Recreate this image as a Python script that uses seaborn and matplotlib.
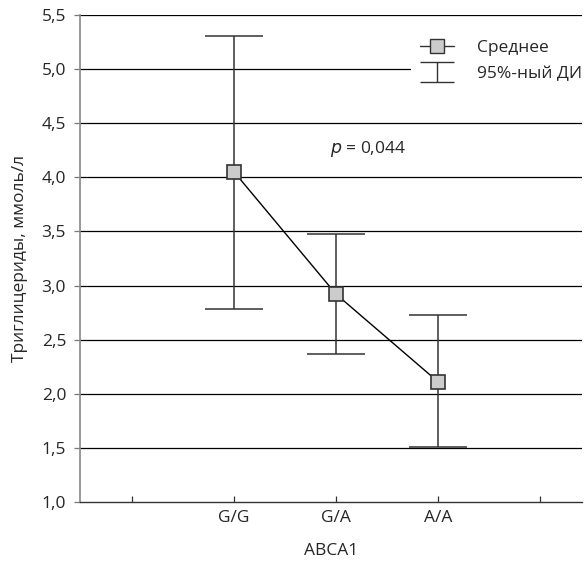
import numpy as np
import matplotlib
matplotlib.use("Agg")
import matplotlib.pyplot as plt
import seaborn as sns
from matplotlib.lines import Line2D
from matplotlib.path import Path

# data
genotypes = ["G/G", "G/A", "A/A"]
mean_tg = [4.05, 2.92, 2.11]
ci_low = [2.78, 2.37, 1.51]
ci_high = [5.31, 3.48, 2.73]
tick_labels = ["", "G/G", "G/A", "A/A", ""]
y_ticks = [1.0, 1.5, 2.0, 2.5, 3.0, 3.5, 4.0, 4.5, 5.0, 5.5]

sns.set_style("white")
plt.rcParams["font.family"] = ["Open Sans", "DejaVu Sans"]

fig = plt.figure(figsize=(5.85, 5.64), dpi=100)
ax = fig.add_axes([0.1368, 0.11, 0.858, 0.8634])

xpos = np.arange(1, len(genotypes) + 1)
mean_arr = np.array(mean_tg)
err = [mean_arr - np.array(ci_low), np.array(ci_high) - mean_arr]

# horizontal grid
for v in y_ticks[1:]:
    ax.axhline(v, color="black", lw=0.9, zorder=0)

ax.errorbar(xpos, mean_arr, yerr=err, fmt="none", ecolor="#333333",
            elinewidth=1.1, capsize=21, capthick=1.1, zorder=2)
sns.lineplot(x=xpos, y=mean_arr, ax=ax, color="black", lw=1.0,
             marker="s", markersize=10.5, markerfacecolor="#cccccc",
             markeredgecolor="#333333", markeredgewidth=1.2, zorder=3)

ax.set_xlim(-0.51, 4.41)
ax.set_ylim(1.0, 5.5)
ax.set_xticks(range(len(tick_labels)))
ax.set_xticklabels(tick_labels)
ax.set_yticks(y_ticks)
ax.set_yticklabels([f"{v:.1f}".replace(".", ",") for v in y_ticks])
ax.tick_params(axis="x", direction="in", length=4, width=0.9, color="#333333",
               labelsize=12.5, pad=6, bottom=True)
ax.tick_params(axis="y", direction="out", length=4, width=0.9, color="#777777",
               labelsize=12.5, pad=6, left=True)

for s in ["top", "right"]:
    ax.spines[s].set_visible(False)
ax.spines["left"].set_color("#888888")
ax.spines["left"].set_linewidth(1.2)
ax.spines["bottom"].set_color("#333333")
ax.spines["bottom"].set_linewidth(1.0)

ax.set_ylabel("Триглицериды, ммоль/л", fontsize=12.5, labelpad=10)
ax.set_xlabel("ABCA1", fontsize=12.5, labelpad=12)

ax.text(2.31, 4.26, "$p$ = 0,044", fontsize=12.5, ha="center", va="center")

# legend
ci_marker = Path([(-1, 0.6), (1, 0.6), (0, 0.6), (0, -0.6), (-1, -0.6), (1, -0.6)],
                 [Path.MOVETO, Path.LINETO, Path.MOVETO, Path.LINETO,
                  Path.MOVETO, Path.LINETO])
h_mean = Line2D([], [], color="#333333", lw=1.0, marker="s", markersize=9.5,
                markerfacecolor="#cccccc", markeredgecolor="#333333")
h_ci = Line2D([], [], color="none", marker=ci_marker, markersize=24,
              markeredgecolor="#333333", markeredgewidth=1.0)
leg = ax.legend([h_mean, h_ci], ["Среднее", "95%-ный ДИ"], loc="upper right",
                bbox_to_anchor=(1.035, 0.985), fontsize=12.5, frameon=True,
                handlelength=2.0, handletextpad=1.3, labelspacing=0.6,
                borderpad=0.5)
leg.get_frame().set_facecolor("white")
leg.get_frame().set_edgecolor("none")
leg.get_frame().set_alpha(1)

fig.savefig("out.png", dpi=100)
